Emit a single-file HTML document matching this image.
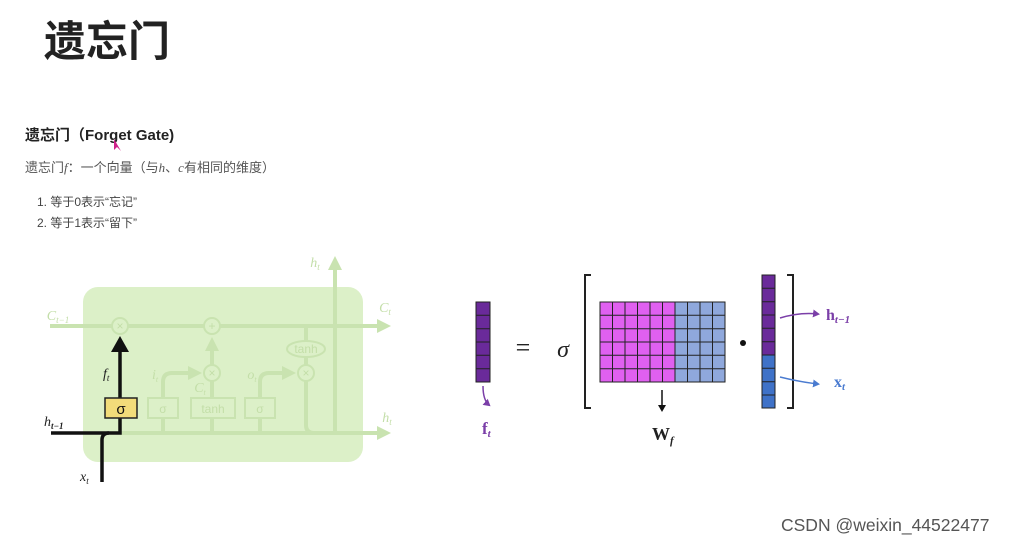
<!DOCTYPE html>
<html><head><meta charset="utf-8"><style>
body{margin:0;width:1027px;height:545px;background:#fff;overflow:hidden;position:relative;font-family:"Liberation Sans","Noto Sans CJK SC",sans-serif}
.t{position:absolute;white-space:nowrap}
</style></head><body>
<div class="t" style="left:44px;top:8px;font-size:42px;font-weight:bold;color:#222">遗忘门</div>
<div class="t" style="left:25px;top:124px;font-size:15px;font-weight:bold;color:#222">遗忘门（Forget Gate)</div>
<div class="t" style="left:25px;top:157px;font-size:13px;color:#555">遗忘门<i style="font-family:'Liberation Serif',serif">f</i>：一个向量（与<i style="font-family:'Liberation Serif',serif">h</i>、<i style="font-family:'Liberation Serif',serif">c</i>有相同的维度）</div>
<div class="t" style="left:37px;top:193px;font-size:12px;color:#444">1. 等于0表示“忘记”</div>
<div class="t" style="left:37px;top:214px;font-size:12px;color:#444">2. 等于1表示“留下”</div>
<div class="t" style="left:781px;top:515px;font-size:17.5px;color:#555">CSDN @weixin_44522477</div>
<svg width="1027" height="545" style="position:absolute;left:0;top:0" font-family="Liberation Serif,serif">
<defs>
<marker id="ga" markerWidth="16" markerHeight="16" refX="8" refY="8" orient="auto" markerUnits="userSpaceOnUse"><path d="M0,1L14,8L0,15z" fill="#c9e3b0"/></marker>
<marker id="pa" markerWidth="8" markerHeight="8" refX="5" refY="4" orient="auto" markerUnits="userSpaceOnUse"><path d="M0,0L7,4L0,8z" fill="#7b3fa8"/></marker>
<marker id="ba" markerWidth="8" markerHeight="8" refX="5" refY="4" orient="auto" markerUnits="userSpaceOnUse"><path d="M0,0L7,4L0,8z" fill="#4a7bd0"/></marker>
<marker id="ka" markerWidth="8" markerHeight="8" refX="5" refY="4" orient="auto" markerUnits="userSpaceOnUse"><path d="M0,0L7,4L0,8z" fill="#111"/></marker>
</defs>
<rect x="83" y="287" width="280" height="175" rx="15" fill="#dcf0c8"/>
<g stroke="#c9e3b0" stroke-width="4" fill="none">
<line x1="50" y1="326" x2="385" y2="326" marker-end="url(#ga)"/>
<path d="M120,433 H385" marker-end="url(#ga)"/>
<path d="M335,433 V262" marker-end="url(#ga)"/>
<path d="M306,326 V425 Q306,433 314,433"/>
<path d="M212,433 V343" marker-end="url(#ga)"/>
<path d="M163,433 V382 Q163,373 172,373 H196" marker-end="url(#ga)"/>
<path d="M260,433 V382 Q260,373 269,373 H290" marker-end="url(#ga)"/>
</g>
<g fill="#dcf0c8" stroke="#c9e3b0" stroke-width="2">
<circle cx="120" cy="326" r="8"/><circle cx="212" cy="326" r="8"/><circle cx="212" cy="373" r="8"/><circle cx="306" cy="373" r="8"/>
<ellipse cx="306" cy="349" rx="19" ry="8"/>
<rect x="148" y="398" width="30" height="20"/><rect x="191" y="398" width="44" height="20"/><rect x="245" y="398" width="30" height="20"/>
</g>
<g fill="#c3dea8" font-size="14" font-style="italic" text-anchor="middle">
<text x="58" y="320">C<tspan font-size="9" dy="3">t−1</tspan></text><text x="385" y="312">C<tspan font-size="9" dy="3">t</tspan></text>
<text x="315" y="267">h<tspan font-size="9" dy="3">t</tspan></text><text x="387" y="422">h<tspan font-size="9" dy="3">t</tspan></text>
<text x="155" y="379">i<tspan font-size="8" dy="3">t</tspan></text><text x="252" y="379">o<tspan font-size="8" dy="3">t</tspan></text><text x="200" y="392">C<tspan font-size="8" dy="3">t</tspan></text>
</g>
<g fill="#c3dea8" font-family="Liberation Sans,sans-serif" font-size="12" text-anchor="middle">
<text x="163" y="413">σ</text><text x="213" y="413">tanh</text><text x="260" y="413">σ</text><text x="306" y="353">tanh</text>
<text x="120" y="330">×</text><text x="212" y="330">+</text><text x="212" y="377">×</text><text x="306" y="377">×</text>
</g>
<g stroke="#111" stroke-width="3.5" fill="none">
<path d="M51,433 H120 V350"/>
<path d="M102,482 V440 Q102,433 109,433"/>
</g>
<path d="M111,352 L120,336 L129,352z" fill="#111"/>
<rect x="105" y="398" width="32" height="20" fill="#f2dc7a" stroke="#222" stroke-width="1.5"/>
<text x="121" y="414" font-family="Liberation Sans,sans-serif" font-size="15" text-anchor="middle" fill="#111">σ</text>
<g fill="#222" font-size="14" font-style="italic">
<text x="103" y="378">f<tspan font-size="9" dy="3">t</tspan></text>
<text x="44" y="426">h<tspan font-size="9" dy="3" font-weight="bold">t−1</tspan></text>
<text x="80" y="481">x<tspan font-size="9" dy="3">t</tspan></text>
</g>
<g stroke="#222" stroke-width="1">
<rect x="476" y="302" width="14" height="80" fill="#6a2a9a"/>
<path d="M476,315.3H490M476,328.7H490M476,342H490M476,355.3H490M476,368.7H490"/>
<rect x="600" y="302" width="75" height="80" fill="#e060f0"/>
<rect x="675" y="302" width="50" height="80" fill="#8fa8dc"/>
<path d="M612.5,302V382M625,302V382M637.5,302V382M650,302V382M662.5,302V382M675,302V382M687.5,302V382M700,302V382M712.5,302V382M600,315.3H725M600,328.7H725M600,342H725M600,355.3H725M600,368.7H725"/>
<rect x="762" y="275" width="13" height="80" fill="#6a2a9a"/>
<rect x="762" y="355" width="13" height="53" fill="#3f72c8"/>
<path d="M762,288.3H775M762,301.7H775M762,315H775M762,328.3H775M762,341.7H775M762,368.3H775M762,381.7H775M762,395H775"/>
</g>
<g stroke="#222" stroke-width="2" fill="none">
<path d="M591,275H585V408H591"/><path d="M787,275H793V408H787"/>
</g>
<text x="523" y="356" font-size="26" text-anchor="middle" fill="#222">=</text>
<text x="563" y="357" font-size="24" font-style="italic" text-anchor="middle" fill="#222">σ</text>
<circle cx="743" cy="343" r="3" fill="#111"/>
<path d="M483,386 Q483,400 489,405" stroke="#7b3fa8" stroke-width="1.5" fill="none" marker-end="url(#pa)"/>
<text x="482" y="434" font-size="17" font-weight="bold" fill="#7b3fa8">f<tspan font-size="11" font-style="italic" dy="3">t</tspan></text>
<path d="M662,390 V410" stroke="#111" stroke-width="1.5" marker-end="url(#ka)"/>
<text x="652" y="440" font-size="18" font-weight="bold" fill="#222">W<tspan font-size="11" font-style="italic" dy="4">f</tspan></text>
<path d="M780,318 Q800,312 818,314" stroke="#7b3fa8" stroke-width="1.5" fill="none" marker-end="url(#pa)"/>
<text x="826" y="320" font-size="16" font-weight="bold" fill="#7b3fa8">h<tspan font-size="11" font-style="italic" dy="3">t−1</tspan></text>
<path d="M780,377 Q800,382 818,384" stroke="#4a7bd0" stroke-width="1.5" fill="none" marker-end="url(#ba)"/>
<text x="834" y="387" font-size="16" font-weight="bold" fill="#4a7bd0">x<tspan font-size="11" font-style="italic" dy="3">t</tspan></text>
<path d="M114,139 l0,11 l3,-3 l4,4z" fill="#d0208a"/>
</svg>
</body></html>
